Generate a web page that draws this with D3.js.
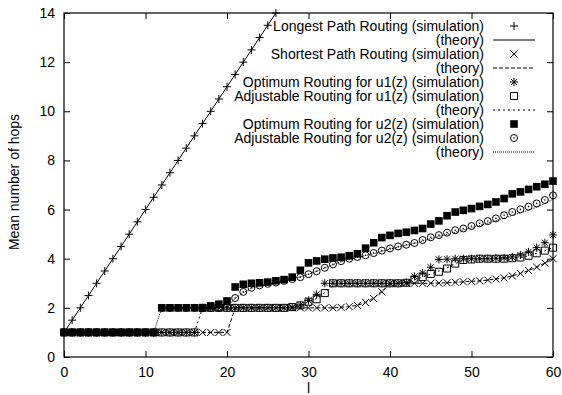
<!DOCTYPE html>
<html>
<head>
<meta charset="utf-8">
<script src="https://cdn.jsdelivr.net/npm/d3@7"></script>
<style>
  body { margin: 0; background: #fff; }
  text { font-family: "Liberation Sans", Arial, Helvetica, sans-serif; font-size: 14px; fill: #000; }
</style>
</head>
<body>
<div id="plot_div"></div>
<script>
const width  = 562;
const height = 395;
var margin = {top: 13, right: 9, bottom: 38, left: 64}

// x values (l)
const ls = [0,1,2,3,4,5,6,7,8,9,10,11,12,13,14,15,16,17,18,19,20,
            21,22,23,24,25,26,27,28,29,30,31,32,33,34,35,36,37,38,39,40,
            41,42,43,44,45,46,47,48,49,50,51,52,53,54,55,56,57,58,59,60]
const longestL = [0,1,2,3,4,5,6,7,8,9,10,11,12,13,14,15,16,17,18,19,20,21,22,23,24,25,26]

const xTicks = [0,10,20,30,40,50,60]
const yTicks = [0,2,4,6,8,10,12,14]

// Longest Path Routing
const longestSim = [1,1.5,2,2.5,3,3.5,4,4.5,5,5.5,6,6.5,7,7.5,8,8.5,9,9.5,10,10.5,11,11.5,12,12.5,13,13.5,14]
const longestTheoryL = [0, 26]
const longestTheory  = [1, 14]

// Shortest Path Routing
const shortestSim = [1,1,1,1,1,1,1,1,1,1,1,1,1,1,1,1,1,1,1,1,1,
  2,2,2,2,2,2,2,2,2,2,2,2,2,
  2.02,2.05,2.1,2.22,2.38,2.65,3.0,3.0,3.0,3.0,3.0,3.0,3.01,3.02,3.04,3.06,
  3.08,3.1,3.13,3.17,3.22,3.3,3.4,3.52,3.66,3.82,4.0]
const shortestTheory = [1,1,1,1,1,1,1,1,1,1,1,1,1,1,1,1,1,1,1,1,1,
  2,2,2,2,2,2,2,2,2,2,2,2,2,
  2.02,2.05,2.1,2.22,2.4,2.68,2.95,3.0,3.0,3.0,3.0,3.0,3.01,3.02,3.04,3.06,
  3.08,3.1,3.13,3.17,3.22,3.3,3.4,3.52,3.66,3.82,4.0]

// u1(z)
const u1Opt = [1,1,1,1,1,1,1,1,1,1,1,1,1,1,1,1,1,
  2,2,2,2,2,2,2,2,2,2,2,
  2.03,2.12,2.3,2.55,3.0,3,3,3,3,3,3,3,3,3,
  3.03,3.28,3.42,3.65,3.97,3.98,4.0,
  4.0,4.0,4.0,4.0,4.02,4.04,4.07,
  4.15,4.28,4.45,4.65,4.97]
const u1Adj = [1,1,1,1,1,1,1,1,1,1,1,1,1,1,1,1,1,
  2,2,2,2,2,2,2,2,2,2,2,
  2.03,2.1,2.25,2.35,2.6,3,3,3,3,3,3,3,3,3,
  3.02,3.15,3.25,3.38,3.47,3.6,3.8,
  3.95,3.97,4.0,4.0,4.0,4.0,4.02,
  4.05,4.12,4.22,4.33,4.45]
const u1Theory = [1,1,1,1,1,1,1,1,1,1,1,1,1,1,1,1,1,
  2,2,2,2,2,2,2,2,2,2,2,
  2.03,2.1,2.25,2.38,2.62,2.9,3,3,3,3,3,3,3,3,
  3.02,3.15,3.25,3.38,3.5,3.63,3.8,
  3.94,3.98,4.0,4.0,4.0,4.0,4.02,
  4.05,4.12,4.22,4.33,4.45]

// u2(z)
const u2Opt = [1,1,1,1,1,1,1,1,1,1,1,1,
  2,2,2,2,2,2,
  2.08,2.15,2.28,
  2.85,2.96,3.0,3.02,3.05,3.1,3.15,3.25,3.53,
  3.83,3.91,3.98,4.03,4.06,4.12,4.2,4.43,4.65,4.86,
  4.95,5.03,5.08,5.15,5.23,5.41,5.54,5.75,5.9,5.97,
  6.04,6.13,6.21,6.31,6.45,6.64,6.72,6.82,6.93,7.03,
  7.16]
const u2Adj = [1,1,1,1,1,1,1,1,1,1,1,1,
  2,2,2,2,2,2,2,
  2.02,2.05,
  2.4,2.65,2.82,2.92,2.98,3.03,3.1,3.17,3.25,
  3.37,3.49,3.63,3.77,3.9,4.0,4.07,4.14,4.23,4.33,
  4.42,4.5,4.57,4.64,4.76,4.87,4.96,5.06,5.16,5.23,
  5.33,5.44,5.53,5.64,5.77,5.9,6.01,6.12,6.25,6.39,
  6.58]
const u2Theory = [1,1,1,1,1,1,1,1,1,1,1,1,
  2,2,2,2,2,2,2,
  2.02,2.05,
  2.38,2.62,2.8,2.9,2.97,3.03,3.1,3.17,3.26,
  3.37,3.5,3.63,3.76,3.88,3.98,4.06,4.13,4.21,4.3,
  4.39,4.47,4.55,4.63,4.72,4.81,4.9,4.99,5.08,5.17,
  5.26,5.35,5.45,5.55,5.65,5.76,5.87,5.98,6.1,6.25,
  6.42]

const legendLabels = [
  "Longest Path Routing (simulation)", "(theory)",
  "Shortest Path Routing (simulation)", "(theory)",
  "Optimum Routing for u1(z) (simulation)", "Adjustable Routing for u1(z) (simulation)", "(theory)",
  "Optimum Routing for u2(z) (simulation)", "Adjustable Routing for u2(z) (simulation)", "(theory)"
]

// point shapes (gnuplot style)
const shapes = {
  plus:   "M-4,0H4M0,-4V4",
  times:  "M-3.5,-3.5L3.5,3.5M-3.5,3.5L3.5,-3.5",
  star:   "M-4,0H4M0,-4V4M-3,-3L3,3M-3,3L3,-3",
  box:    "M-3.5,-3.5H3.5V3.5H-3.5Z",
  fbox:   "M-3.8,-3.8H3.8V3.8H-3.8Z",
  circle: "M-3.5,0A3.5,3.5 0 1,0 3.5,0A3.5,3.5 0 1,0 -3.5,0Z"
}

const svg = d3.create("svg")
      .attr("width", width)
      .attr("height", height)
      .attr("viewBox", [0, 0, width, height])

svg.append("rect").attr("width", width).attr("height", height).attr("fill", "#fff")

const x = d3.scaleLinear()
      .domain([0, 60])
      .range([margin.left, width - margin.right]);

const y = d3.scaleLinear()
      .domain([0, 14])
      .range([height - margin.bottom, margin.top]);

// axes, ticks pointing inwards on all four sides
svg.append("g")
    .attr("transform", `translate(0,${height - margin.bottom})`)
    .call(d3.axisBottom(x).tickValues(xTicks).tickSizeInner(-6).tickSizeOuter(0).tickPadding(10))
svg.append("g")
    .attr("transform", `translate(0,${margin.top})`)
    .call(d3.axisTop(x).tickValues(xTicks).tickSizeInner(-6).tickSizeOuter(0).tickFormat(""))
svg.append("g")
    .attr("transform", `translate(${margin.left},0)`)
    .call(d3.axisLeft(y).tickValues(yTicks).tickSizeInner(-6).tickSizeOuter(0).tickPadding(9))
svg.append("g")
    .attr("transform", `translate(${width - margin.right},0)`)
    .call(d3.axisRight(y).tickValues(yTicks).tickSizeInner(-6).tickSizeOuter(0).tickFormat(""))

svg.selectAll(".domain").remove()
svg.selectAll(".tick line").attr("stroke", "#000")
svg.selectAll(".tick text").attr("font-size", 14).attr("font-family", null).attr("fill", "#000")

svg.append("rect")
    .attr("x", margin.left)
    .attr("y", margin.top)
    .attr("width", width - margin.left - margin.right)
    .attr("height", height - margin.top - margin.bottom)
    .attr("fill", "none")
    .attr("stroke", "#000")
    .attr("stroke-width", 1.2)

// axis titles
svg.append("text")
    .attr("x", (x(0) + x(60)) / 2)
    .attr("y", 393)
    .attr("text-anchor", "middle")
    .text("l");

svg.append("text")
    .attr("transform", `translate(19,${182}) rotate(-90)`)
    .attr("text-anchor", "middle")
    .text("Mean number of hops");

function draw_line(xs, vals, dash){
    svg.append("path")
        .datum(vals.map((v, i) => [xs[i], v]))
        .attr("fill", "none")
        .attr("stroke", "#000")
        .attr("stroke-width", 1)
        .attr("stroke-dasharray", dash)
        .attr("d", d3.line().x(d => x(d[0])).y(d => y(d[1])))
}

function draw_points(xs, vals, shape, filled){
    svg.append("g")
        .selectAll("path")
        .data(vals.map((v, i) => [xs[i], v]))
        .join("path")
        .attr("transform", d => `translate(${x(d[0])},${y(d[1])})`)
        .attr("d", shapes[shape])
        .attr("fill", filled ? "#000" : "none")
        .attr("stroke", filled ? "none" : "#000")
        .attr("stroke-width", 1)
}

// series, in gnuplot drawing order
draw_points(longestL, longestSim, "plus")
draw_line(longestTheoryL, longestTheory, null)
draw_points(ls, shortestSim, "times")
draw_line(ls, shortestTheory, "4,2")
draw_points(ls, u1Opt, "star")
draw_points(ls, u1Adj, "box")
draw_line(ls, u1Theory, "2,3")
draw_points(ls, u2Opt, "fbox", true)
draw_points(ls, u2Adj, "circle")
svg.append("g")
    .selectAll("circle")
    .data(u2Adj.map((v, i) => [ls[i], v]))
    .join("circle")
    .attr("cx", d => x(d[0]))
    .attr("cy", d => y(d[1]))
    .attr("r", 0.8)
    .attr("fill", "#000")
draw_line(ls, u2Theory, "1,1")

// legend
const legendKind = [
  {shape: "plus"}, {dash: "none"},
  {shape: "times"}, {dash: "4,2"},
  {shape: "star"}, {shape: "box"}, {dash: "2,3"},
  {shape: "fbox", filled: true}, {shape: "circle", dot: true}, {dash: "1,1"}
]
const legendTextX = 484
const legendSampleX = [493, 535]
legendLabels.forEach((label, i) => {
    const cy = 26 + 14 * i
    svg.append("text")
        .attr("x", legendTextX)
        .attr("y", cy + 5)
        .attr("text-anchor", "end")
        .text(label)
    const k = legendKind[i]
    if (k.shape){
        svg.append("path")
            .attr("transform", `translate(${(legendSampleX[0] + legendSampleX[1]) / 2},${cy})`)
            .attr("d", shapes[k.shape])
            .attr("fill", k.filled ? "#000" : "none")
            .attr("stroke", k.filled ? "none" : "#000")
        if (k.dot){
            svg.append("circle")
                .attr("cx", (legendSampleX[0] + legendSampleX[1]) / 2)
                .attr("cy", cy)
                .attr("r", 0.8)
        }
    } else {
        svg.append("line")
            .attr("x1", legendSampleX[0])
            .attr("x2", legendSampleX[1])
            .attr("y1", cy)
            .attr("y2", cy)
            .attr("stroke", "#000")
            .attr("stroke-dasharray", k.dash === "none" ? null : k.dash)
    }
})

document.getElementById("plot_div").append(svg.node());
</script>
</body>
</html>
